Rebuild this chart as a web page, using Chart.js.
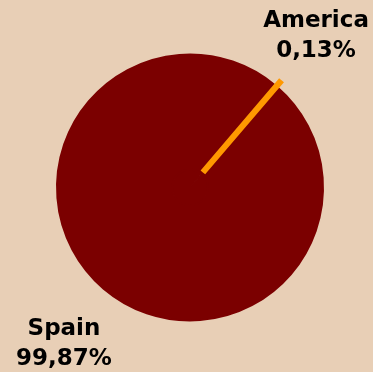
<!DOCTYPE html>
<html>
<head>
<meta charset="utf-8">
<script src="https://cdn.jsdelivr.net/npm/chart.js@4/dist/chart.umd.min.js"></script>
<style>
  html, body { margin: 0; padding: 0; background: rgb(232,207,182); }
  #wrap { width: 373px; height: 372px; }
</style>
</head>
<body>
<div id="wrap"><canvas id="c" width="373" height="372"></canvas></div>
<script>
const categories = ['Spain', 'America'];
const shares = [99.87, 0.13];
const sliceColors = ['rgb(123,0,0)', 'rgb(255,153,0)'];

const DARK = 'rgb(123,0,0)';

const labelPlugin = {
  id: 'pieLabels',
  afterDatasetsDraw(chart) {
    const meta = chart.getDatasetMeta(0);
    const ctx = chart.ctx;
    ctx.save();
    ctx.font = 'bold 23px "DejaVu Sans", Verdana, sans-serif';
    ctx.fillStyle = '#000';
    ctx.textAlign = 'center';
    ctx.textBaseline = 'alphabetic';
    meta.data.forEach((arc, i) => {
      const mid = (arc.startAngle + arc.endAngle) / 2 - 0.021;
      const d = 199;
      const cx = arc.x + Math.cos(mid) * d;
      const cy = arc.y + Math.sin(mid) * d;
      const pct = shares[i].toFixed(2).replace('.', ',') + '%';
      ctx.fillText(categories[i], cx, cy - 6.3);
      ctx.fillText(pct, cx, cy + 23.7);
    });
    ctx.restore();
  }
};

new Chart(document.getElementById('c'), {
  type: 'pie',
  data: {
    labels: categories,
    datasets: [
      {
        data: shares,
        backgroundColor: sliceColors,
        borderColor: [DARK, sliceColors[1]],
        borderWidth: [2, 6],
        borderJoinStyle: 'miter',
        offset: [0, 10],
        weight: 116
      },
      {
        data: shares,
        backgroundColor: [DARK, DARK],
        borderColor: [DARK, DARK],
        borderWidth: 1,
        weight: 18
      }
    ]
  },
  options: {
    responsive: false,
    animation: false,
    events: [],
    radius: 133,
    rotation: 40.73,
    layout: { padding: { left: 7, right: 0, top: 3, bottom: 0 } },
    plugins: {
      legend: { display: false },
      tooltip: { enabled: false }
    }
  },
  plugins: [labelPlugin]
});
</script>
</body>
</html>
